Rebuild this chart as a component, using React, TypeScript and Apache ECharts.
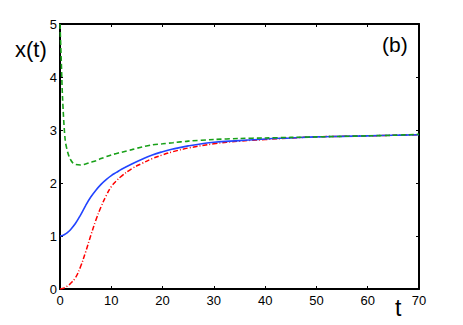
import React, { useEffect, useRef } from "react";
import * as echarts from "echarts";

const tMain = [0, 0.5, 1, 1.5, 2, 3, 4, 5, 6, 7, 8, 9, 10, 11, 12, 14, 16, 18, 20, 22, 25, 30, 35, 40, 45, 50, 55, 60, 65, 70];
const blueValues = [1.0, 1.01, 1.035, 1.07, 1.115, 1.235, 1.395, 1.575, 1.735, 1.865, 1.975, 2.065, 2.14, 2.2, 2.26, 2.36, 2.45, 2.53, 2.59, 2.64, 2.7, 2.77, 2.8, 2.83, 2.85, 2.87, 2.88, 2.89, 2.9, 2.91];
const redValues = [0, 0.01, 0.03, 0.06, 0.1, 0.21, 0.42, 0.7, 1.01, 1.3, 1.55, 1.76, 1.93, 2.04, 2.13, 2.27, 2.37, 2.46, 2.53, 2.59, 2.66, 2.74, 2.79, 2.82, 2.85, 2.87, 2.88, 2.89, 2.9, 2.91];
const tGreen = [0, 0.25, 0.5, 1, 1.5, 2, 2.5, 3, 4, 5, 6, 7, 8, 10, 12, 14, 16, 18, 20, 22, 25, 30, 35, 40, 45, 50, 55, 60, 65, 70];
const greenValues = [5.0, 4.3, 3.6, 2.82, 2.58, 2.45, 2.38, 2.35, 2.34, 2.36, 2.39, 2.42, 2.46, 2.53, 2.58, 2.63, 2.68, 2.72, 2.74, 2.76, 2.79, 2.82, 2.84, 2.85, 2.86, 2.87, 2.88, 2.89, 2.9, 2.92];

const xTicks = [0, 10, 20, 30, 40, 50, 60, 70];
const yTicks = [0, 1, 2, 3, 4, 5];

const pair = (ts: number[], vs: number[]) => ts.map((t, i) => [t, vs[i]]);

export default function App() {
  const ref = useRef<HTMLDivElement>(null);
  useEffect(() => {
    if (!ref.current) return;
    const chart = echarts.init(ref.current, null, { renderer: "svg" });
    const font = "Liberation Sans, Arial, sans-serif";
    const axisLine = { show: true, onZero: false, lineStyle: { color: "#000", width: 2 } };
    const tick = { show: true, inside: true, length: 3, lineStyle: { color: "#000", width: 1 } };
    chart.setOption({
      animation: false,
      backgroundColor: "#fff",
      grid: { left: 60, top: 24, width: 359, height: 265, containLabel: false },
      xAxis: [
        {
          type: "value", min: xTicks[0], max: xTicks[xTicks.length - 1], interval: 10,
          axisLine, axisTick: tick, splitLine: { show: false },
          axisLabel: { color: "#000", fontSize: 13, fontFamily: font, margin: 5 },
        },
        {
          type: "value", position: "top", min: 0, max: 70, interval: 10,
          axisLine, axisTick: tick, splitLine: { show: false }, axisLabel: { show: false },
        },
      ],
      yAxis: [
        {
          type: "value", min: yTicks[0], max: yTicks[yTicks.length - 1], interval: 1,
          axisLine, axisTick: tick, splitLine: { show: false },
          axisLabel: { color: "#000", fontSize: 13, fontFamily: font, margin: 3 },
        },
        {
          type: "value", position: "right", min: 0, max: 5, interval: 1,
          axisLine, axisTick: tick, splitLine: { show: false }, axisLabel: { show: false },
        },
      ],
      series: [
        {
          type: "line", data: pair(tMain, redValues), showSymbol: false, smooth: 0.4,
          lineStyle: { color: "#ff0000", width: 1.5, type: [5, 2, 1, 2] },
        },
        {
          type: "line", data: pair(tMain, blueValues), showSymbol: false, smooth: 0.4,
          lineStyle: { color: "#2244ff", width: 1.6, type: "solid" },
        },
        {
          type: "line", data: pair(tGreen, greenValues), showSymbol: false, smooth: 0.3,
          lineStyle: { color: "#18a018", width: 1.6, type: [5, 3] },
        },
      ],
      graphic: [
        { type: "text", left: 15, top: 38, style: { text: "x(t)", fontSize: 22, fontFamily: font, fill: "#000" } },
        { type: "text", left: 382, top: 34, style: { text: "(b)", fontSize: 21, fontFamily: font, fill: "#000" } },
        { type: "text", left: 395, top: 296, style: { text: "t", fontSize: 23, fontFamily: font, fill: "#000" } },
      ],
    });
    return () => chart.dispose();
  }, []);
  return <div ref={ref} style={{ position: "fixed", left: 0, top: 0, width: 463, height: 325 }} />;
}
